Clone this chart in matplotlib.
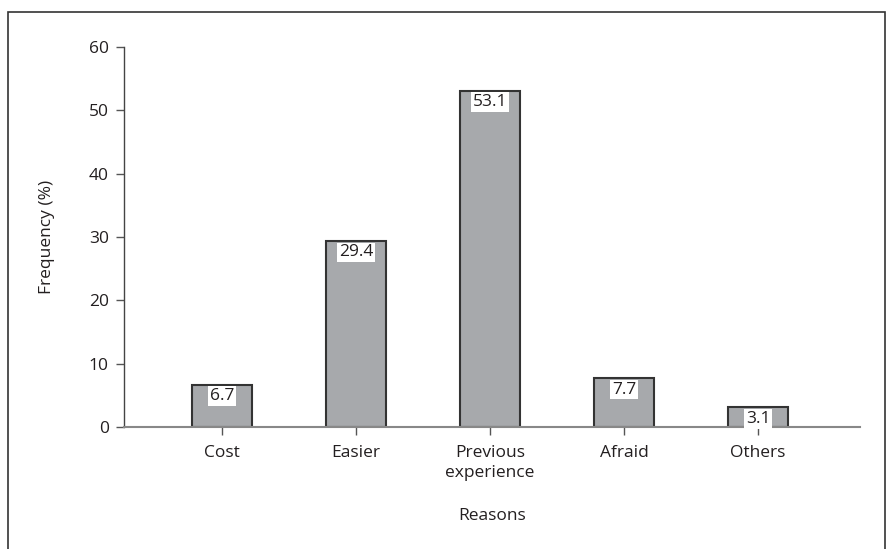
import matplotlib.pyplot as plt
from matplotlib.patches import Rectangle

categories = ["Cost", "Easier", "Previous\nexperience", "Afraid", "Others"]
frequency = [6.7, 29.4, 53.1, 7.7, 3.1]
yticks = [0, 10, 20, 30, 40, 50, 60]

plt.rcParams['font.family'] = ['Open Sans', 'DejaVu Sans']
fs = 12.5

fig = plt.figure(figsize=(8.93, 5.49), dpi=100)
ax = fig.add_axes([0.1389, 0.2222, 0.963 - 0.1389, 0.9144 - 0.2222])

# frame round the figure (bottom edge runs off the picture)
fig.patches.append(Rectangle((8 / 893, -0.05), (885 - 8) / 893, 1.05 - 12 / 549,
                             transform=fig.transFigure, fill=False,
                             edgecolor="#333333", linewidth=1.2))

x = list(range(len(categories)))
ax.bar(x, frequency, width=0.45, color="#a7a9ac", edgecolor="#333333", linewidth=1.5, zorder=2)

for xi, v in zip(x, frequency):
    ax.annotate(f"{v}", (xi, v), xytext=(0, -2.5), textcoords="offset points",
                ha="center", va="top", fontsize=fs, color="#231f20", zorder=3,
                bbox=dict(boxstyle="square,pad=0.1", fc="white", ec="none"))

ax.set_xlim(-0.73, 4.76)
ax.set_ylim(0, 60)
ax.set_yticks(yticks)
ax.set_xticks(x)
ax.set_xticklabels(categories, fontsize=fs, color="#231f20", linespacing=1.3)
ax.tick_params(axis="y", labelsize=fs, labelcolor="#231f20", length=6, width=1, color="#555555", pad=5)
ax.tick_params(axis="x", length=6, width=1, color="#555555", pad=7)

for s in ["top", "right"]:
    ax.spines[s].set_visible(False)
ax.spines["left"].set_color("#444444")
ax.spines["bottom"].set_color("#888888")
ax.spines["left"].set_linewidth(1.0)
ax.spines["bottom"].set_linewidth(1.5)

ax.set_ylabel("Frequency (%)", fontsize=fs, color="#231f20", labelpad=24)
ax.set_xlabel("Reasons", fontsize=fs, color="#231f20", labelpad=20)

fig.savefig("out.png", dpi=100)
